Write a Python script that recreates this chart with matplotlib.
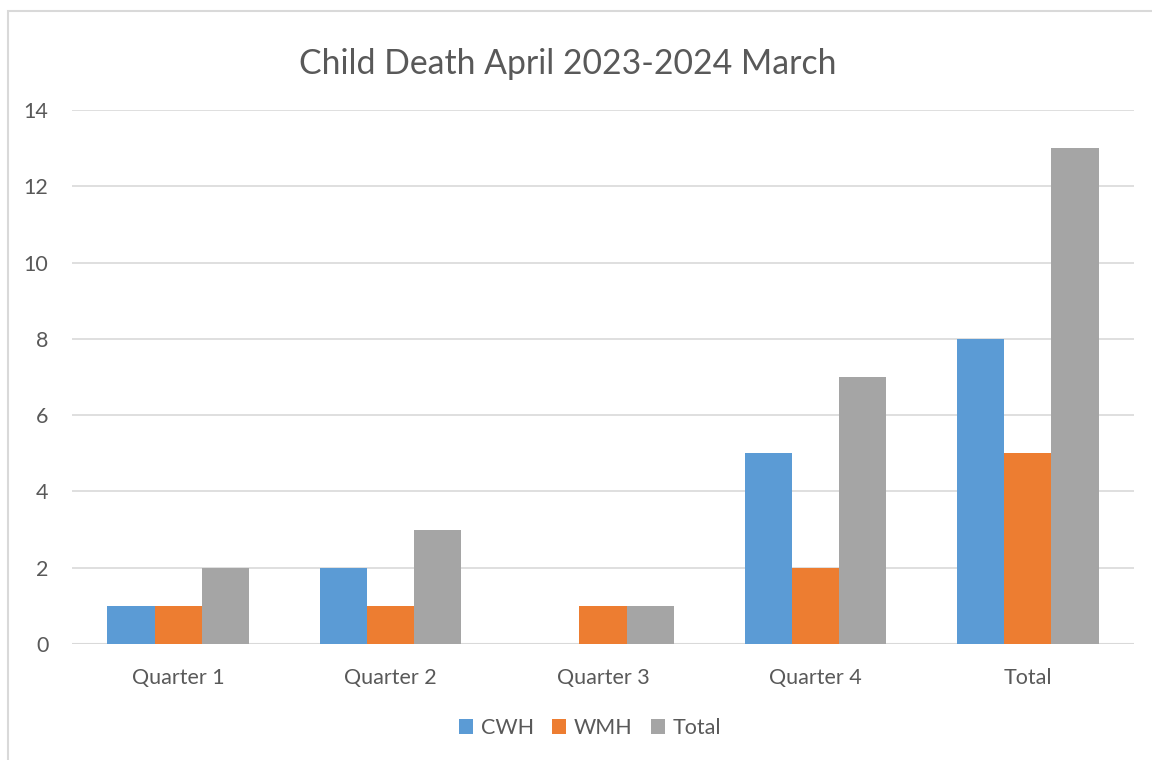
import matplotlib.pyplot as plt
import numpy as np
from matplotlib.patches import Rectangle

plt.rcParams['font.family'] = ['Lato', 'DejaVu Sans']

# counts per quarter, by hospital
quarters = ['Quarter 1', 'Quarter 2', 'Quarter 3', 'Quarter 4', 'Total']
cwh = [1, 2, 0, 5, 8]
wmh = [1, 1, 1, 2, 5]
total = [2, 3, 1, 7, 13]
series_names = ['CWH', 'WMH', 'Total']
colors = ['#5B9BD5', '#ED7D31', '#A5A5A5']
text_col = '#595959'

fig = plt.figure(figsize=(11.52, 7.6), dpi=100)
ax = fig.add_axes([72/1152, 1 - 644/760, (1134 - 72)/1152, (644 - 110)/760])

x = np.arange(len(quarters))
w = 2/3/3
for i, (vals, name, c) in enumerate(zip([cwh, wmh, total], series_names, colors)):
    ax.bar(x + (i - 1)*w, vals, width=w, color=c, label=name, zorder=3)

ax.set_xlim(-0.5, len(quarters) - 0.5)
ax.set_ylim(0, 14)
ax.set_yticks(range(0, 15, 2))
ax.set_xticks(x)
ax.set_xticklabels(quarters)
ax.grid(axis='y', color='#d9d9d9', linewidth=1.2, zorder=0)
ax.tick_params(length=0, labelsize=15.5, colors=text_col)
ax.tick_params(axis='x', pad=17)
ax.tick_params(axis='y', pad=17)
for s in ax.spines.values():
    s.set_visible(False)
ax.axhline(0, color='#d9d9d9', linewidth=1.5, zorder=2)

fig.text(568/1152, 1 - 64/760, 'Child Death April 2023-2024 March',
         ha='center', va='center', fontsize=24.3, color=text_col)

leg = fig.legend(loc='center', bbox_to_anchor=(590/1152, 1 - 728/760), ncol=3,
                 frameon=False, fontsize=15.5, handlelength=0.65, handleheight=0.65,
                 handletextpad=0.35, columnspacing=0.85)
for t in leg.get_texts():
    t.set_color(text_col)

# chart frame
fig.patches.append(Rectangle((8/1152, -0.1), 1.2, 1 - 11/760 + 0.1,
                             transform=fig.transFigure, fill=False,
                             edgecolor='#d9d9d9', linewidth=1.5))

fig.savefig('out.png', dpi=100)
